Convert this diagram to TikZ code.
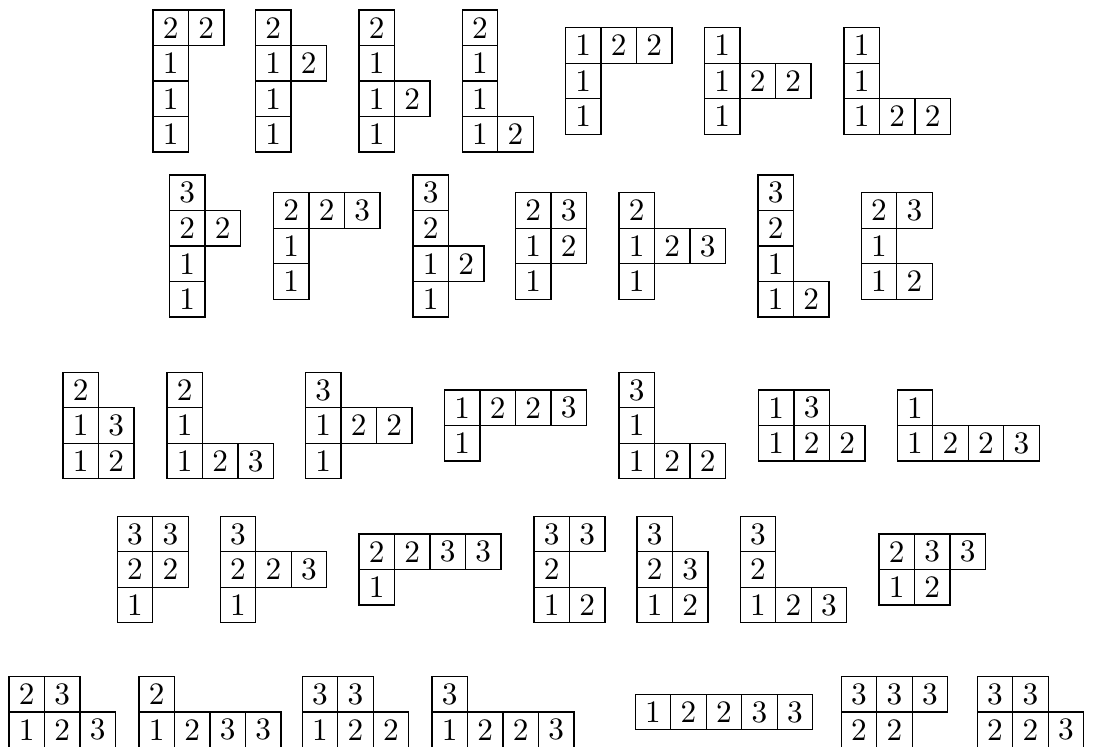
\documentclass[tikz,border=0pt]{standalone}
\usepackage{tikz}
\usetikzlibrary{matrix}

\begin{document}
\begin{tikzpicture}[
  x=0.32pt, y=-0.32pt,
  celula/.style={draw, minimum size=11.36pt, inner sep=0pt, anchor=center},
  quadro/.style={matrix of nodes, anchor=west, inner sep=0pt,
                 column sep=-\pgflinewidth, row sep=-\pgflinewidth,
                 nodes={celula}}
]
\useasboundingbox (0,0) rectangle (1094,747);

% ---------- Linha 1 ----------
\matrix[quadro] (t1a) at (151.7,81) {2 & 2 \\ 1 \\ 1 \\ 1 \\};
\matrix[quadro] (t1b) at (254.3,81) {2 \\ 1 & 2 \\ 1 \\ 1 \\};
\matrix[quadro] (t1c) at (357.7,81) {2 \\ 1 \\ 1 & 2 \\ 1 \\};
\matrix[quadro] (t1d) at (461,81)   {2 \\ 1 \\ 1 \\ 1 & 2 \\};
\matrix[quadro] (t1e) at (564.3,81) {1 & 2 & 2 \\ 1 \\ 1 \\};
\matrix[quadro] (t1f) at (703.3,81) {1 \\ 1 & 2 & 2 \\ 1 \\};
\matrix[quadro] (t1g) at (842.7,81) {1 \\ 1 \\ 1 & 2 & 2 \\};

% ---------- Linha 2 ----------
\matrix[quadro] (t2a) at (168.3,246) {3 \\ 2 & 2 \\ 1 \\ 1 \\};
\matrix[quadro] (t2b) at (272.3,246) {2 & 2 & 3 \\ 1 \\ 1 \\};
\matrix[quadro] (t2c) at (411.7,246) {3 \\ 2 \\ 1 & 2 \\ 1 \\};
\matrix[quadro] (t2d) at (514.3,246) {2 & 3 \\ 1 & 2 \\ 1 \\};
\matrix[quadro] (t2e) at (617.7,246) {2 \\ 1 & 2 & 3 \\ 1 \\};
\matrix[quadro] (t2f) at (756.7,246) {3 \\ 2 \\ 1 \\ 1 & 2 \\};
\matrix[quadro] (t2g) at (860,246)   {2 & 3 \\ 1 \\ 1 & 2 \\};

% ---------- Linha 3 ----------
\matrix[quadro] (t3a) at (61.7,425.5)  {2 \\ 1 & 3 \\ 1 & 2 \\};
\matrix[quadro] (t3b) at (165.7,425.5) {2 \\ 1 \\ 1 & 2 & 3 \\};
\matrix[quadro] (t3c) at (304.3,425.5) {3 \\ 1 & 2 & 2 \\ 1 \\};
\matrix[quadro] (t3d) at (443.3,425.5) {1 & 2 & 2 & 3 \\ 1 \\};
\matrix[quadro] (t3e) at (617.7,425.5) {3 \\ 1 \\ 1 & 2 & 2 \\};
\matrix[quadro] (t3f) at (757.3,425.5) {1 & 3 \\ 1 & 2 & 2 \\};
\matrix[quadro] (t3g) at (896,425.5)   {1 \\ 1 & 2 & 2 & 3 \\};

% ---------- Linha 4 ----------
\matrix[quadro] (t4a) at (116,569.5)   {3 & 3 \\ 2 & 2 \\ 1 \\};
\matrix[quadro] (t4b) at (219,569.5)   {3 \\ 2 & 2 & 3 \\ 1 \\};
\matrix[quadro] (t4c) at (357.7,569.5) {2 & 2 & 3 & 3 \\ 1 \\};
\matrix[quadro] (t4d) at (532.7,569.5) {3 & 3 \\ 2 \\ 1 & 2 \\};
\matrix[quadro] (t4e) at (635.7,569.5) {3 \\ 2 & 3 \\ 1 & 2 \\};
\matrix[quadro] (t4f) at (739,569.5)   {3 \\ 2 \\ 1 & 2 & 3 \\};
\matrix[quadro] (t4g) at (877.7,569.5) {2 & 3 & 3 \\ 1 & 2 \\};

% ---------- Linha 5 ----------
\matrix[quadro] (t5a) at (7.7,712)   {2 & 3 \\ 1 & 2 & 3 \\};
\matrix[quadro] (t5b) at (137.7,712) {2 \\ 1 & 2 & 3 & 3 \\};
\matrix[quadro] (t5c) at (301,712)   {3 & 3 \\ 1 & 2 & 2 \\};
\matrix[quadro] (t5d) at (430.7,712) {3 \\ 1 & 2 & 2 & 3 \\};
\matrix[quadro] (t5e) at (634,712)   {1 & 2 & 2 & 3 & 3 \\};
\matrix[quadro] (t5f) at (840,712)   {3 & 3 & 3 \\ 2 & 2 \\};
\matrix[quadro] (t5g) at (976,712)   {3 & 3 \\ 2 & 2 & 3 \\};

\end{tikzpicture}
\end{document}
